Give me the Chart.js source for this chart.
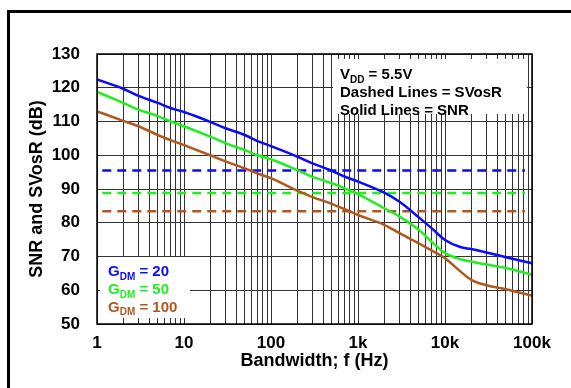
<!DOCTYPE html>
<html>
<head>
<meta charset="utf-8">
<script src="https://cdn.jsdelivr.net/npm/chart.js@4/dist/chart.umd.min.js"></script>
<style>
  html, body { margin: 0; padding: 0; background: #fff; overflow: hidden; }
  canvas { display: block; }
</style>
</head>
<body>
<canvas id="myChart" width="571" height="388"></canvas>
<script>
// bandwidth points (Hz) and SNR readings (dB) for each gain
var freqs = [1, 2, 3, 5, 7, 10, 20, 30, 50, 70, 100, 200, 300, 500, 700,
             1000, 2000, 3000, 5000, 7000, 10000, 15000, 20000, 30000, 50000, 100000];
var snrG20 = [122.5, 119.7, 117.6, 115.5, 114.0, 112.8, 109.9, 108.0, 106.0, 104.2, 102.7, 99.6, 97.6, 95.4, 93.7,
              92.2, 88.9, 86.2, 81.6, 78.4, 74.9, 72.8, 72.2, 71.2, 69.8, 68.0];
var snrG50 = [118.8, 115.5, 113.5, 111.6, 110.0, 108.6, 105.5, 103.6, 101.5, 100.0, 98.8, 95.6, 93.6, 91.7, 90.2,
              88.5, 84.3, 81.8, 77.9, 74.4, 71.0, 69.2, 68.5, 67.6, 66.6, 64.6];
var snrG100 = [113.0, 110.2, 108.6, 106.0, 104.5, 103.0, 100.0, 98.2, 96.1, 94.6, 93.2, 89.5, 87.6, 85.6, 84.0,
               82.3, 79.4, 76.9, 73.9, 71.8, 69.5, 65.6, 63.1, 61.5, 60.3, 58.4];
// SVosR is flat over the band
var svosr = [95.5, 88.8, 83.4];
var svosrRange = [1.15, 83000];

var gains = ['20', '50', '100'];
var decades = [1, 10, 100, 1000, 10000, 100000];
var xTickLabels = ['1', '10', '100', '1k', '10k', '100k'];

var COLORS = ['#0a0aff', '#1ef01e', '#b0581e'];
var FONT = '"Liberation Sans", Arial, sans-serif';

function pts(ys) {
  return freqs.map(function (f, i) { return {x: f, y: ys[i]}; });
}
function flat(v) {
  return [{x: svosrRange[0], y: v}, {x: svosrRange[1], y: v}];
}

var snr = [snrG20, snrG50, snrG100];
var datasets = [];
snr.forEach(function (ys, i) {
  datasets.push({
    label: 'SNR G=' + gains[i],
    data: pts(ys),
    borderColor: COLORS[i],
    borderWidth: 2.5,
    pointRadius: 0,
    fill: false,
    cubicInterpolationMode: 'monotone'
  });
});
svosr.forEach(function (v, i) {
  datasets.push({
    label: 'SVosR G=' + gains[i],
    data: flat(v),
    borderColor: COLORS[i],
    borderWidth: 2.5,
    borderDash: [9, 6],
    pointRadius: 0,
    fill: false
  });
});

// grid lines at 1..9 of every decade
var xGrid = [];
for (var e = 0; e < decades.length - 1; e++) {
  for (var m = 1; m < 10; m++) xGrid.push(m * decades[e]);
}
xGrid.push(decades[decades.length - 1]);

function subText(ctx, x, y, parts) {
  // parts: [text, isSub]
  parts.forEach(function (p) {
    ctx.font = p[1] ? 'bold 10px ' + FONT : 'bold 15px ' + FONT;
    ctx.fillText(p[0], x, p[1] ? y + 3.5 : y);
    x += ctx.measureText(p[0]).width;
  });
}

var decor = {
  id: 'decor',
  beforeDraw: function (chart) {
    var ctx = chart.ctx;
    ctx.save();
    ctx.fillStyle = '#fff';
    ctx.fillRect(0, 0, chart.width, chart.height);
    ctx.fillStyle = '#000';
    ctx.fillRect(7, 10, 3, chart.height);
    ctx.fillRect(7, 10, chart.width, 3);
    ctx.restore();
  },
  beforeDatasetsDraw: function (chart) {
    var ctx = chart.ctx;
    ctx.save();
    ctx.fillStyle = '#fff';
    ctx.fillRect(333, 59, 194, 55);
    ctx.fillRect(100, 257, 90, 61);
    ctx.restore();
  },
  afterDatasetsDraw: function (chart) {
    var ctx = chart.ctx, a = chart.chartArea;
    ctx.save();
    ctx.strokeStyle = '#000';
    ctx.lineWidth = 1.5;
    ctx.strokeRect(a.left, a.top, a.right - a.left, a.bottom - a.top);

    ctx.textBaseline = 'alphabetic';
    ctx.textAlign = 'left';
    ctx.fillStyle = '#000';
    subText(ctx, 340, 79, [['V', 0], ['DD', 1], [' = 5.5V', 0]]);
    subText(ctx, 340, 97, [['Dashed Lines = SVosR', 0]]);
    subText(ctx, 340, 114.5, [['Solid Lines = SNR', 0]]);

    var rows = [276, 294, 311.5];
    gains.forEach(function (g, i) {
      ctx.fillStyle = COLORS[i];
      subText(ctx, 108, rows[i], [['G', 0], ['DM', 1], [' = ' + g, 0]]);
    });
    ctx.restore();
  }
};

new Chart('myChart', {
  type: 'line',
  data: { datasets: datasets },
  plugins: [decor],
  options: {
    responsive: false,
    animation: false,
    devicePixelRatio: 1,
    layout: { padding: { left: 0, right: 39, top: 54, bottom: 0 } },
    plugins: { legend: { display: false }, tooltip: { enabled: false } },
    scales: {
      x: {
        type: 'logarithmic',
        min: 1,
        max: 100000,
        afterBuildTicks: function (s) {
          s.ticks = xGrid.map(function (v) { return {value: v}; });
        },
        afterFit: function (s) { s.height = 64; },
        grid: { color: '#333', lineWidth: 1, drawTicks: false },
        border: { display: false },
        ticks: {
          autoSkip: false,
          maxRotation: 0,
          padding: 9,
          color: '#000',
          font: { family: FONT, size: 17, weight: 'bold' },
          callback: function (v) {
            var k = decades.indexOf(v);
            return k >= 0 ? xTickLabels[k] : '';
          }
        },
        title: {
          display: true,
          text: 'Bandwidth; f (Hz)',
          color: '#000',
          font: { family: FONT, size: 18, weight: 'bold' },
          padding: { top: 0, bottom: 16 }
        }
      },
      y: {
        min: 50,
        max: 130,
        afterFit: function (s) { s.width = 97; },
        grid: { color: '#333', lineWidth: 1, drawTicks: false },
        border: { display: false },
        ticks: {
          stepSize: 10,
          padding: 17,
          color: '#000',
          font: { family: FONT, size: 17, weight: 'bold' }
        },
        title: {
          display: true,
          text: 'SNR and SVosR (dB)',
          color: '#000',
          font: { family: FONT, size: 18, weight: 'bold' },
          padding: { top: 26, bottom: 0 }
        }
      }
    }
  }
});
</script>
</body>
</html>
